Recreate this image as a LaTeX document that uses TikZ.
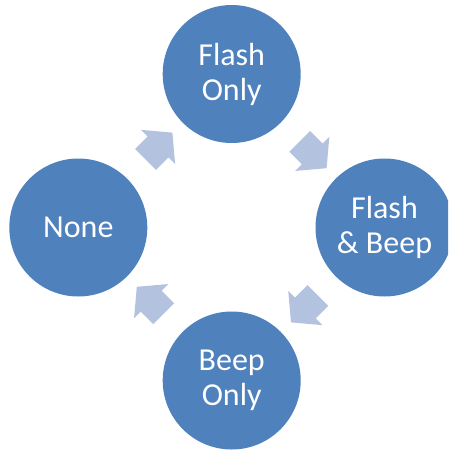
\documentclass[tikz,border=0pt]{standalone}
\usepackage{fontspec}
\setmainfont{Carlito}
\usepackage{tikz}
\usetikzlibrary{shapes.arrows}
\definecolor{stageblue}{HTML}{4F81BD}
\definecolor{flowblue}{HTML}{B3C3DF}

\begin{document}
\begin{tikzpicture}[x=1pt, y=-1pt,
      stage/.style={circle, fill=stageblue, minimum size=138pt, inner sep=0pt,
                    text=white, align=center, font=\fontsize{32}{35}\selectfont},
      flow/.style={single arrow, fill=flowblue, inner xsep=0pt, inner ysep=14.5pt,
                   minimum height=38pt, single arrow head extend=9.5pt,
                   single arrow tip angle=100}]
      \clip (0, 0) rectangle (448, 450);
      \node (flash) [stage] at (231.7, 74) {Flash\\Only};
      \node (both) [stage] at (384.5, 227.5) {Flash\\\& Beep};
      \node (beep) [stage] at (231.7, 380.5) {Beep\\Only};
      \node (none) [stage] at (78.3, 227.5) {None};
      \node (noneflash) [flow, rotate=45] at (154.6, 150.4) {};
      \node (flashboth) [flow, rotate=-45] at (308.8, 150.4) {};
      \node (bothbeep) [flow, rotate=-135] at (308.8, 304.6) {};
      \node (beepnone) [flow, rotate=135] at (154.6, 304.6) {};
\end{tikzpicture}
\end{document}
